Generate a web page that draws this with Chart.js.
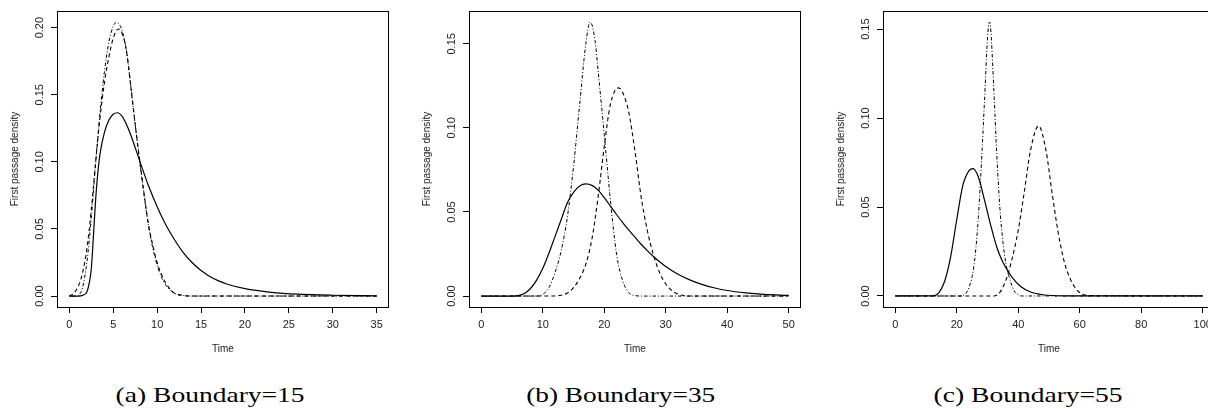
<!DOCTYPE html>
<html><head><meta charset="utf-8">
<script src="https://cdn.jsdelivr.net/npm/chart.js@4.4.0/dist/chart.umd.min.js"></script>
<style>
html,body{margin:0;padding:0;background:#fff;overflow:hidden;width:1208px;height:409px;position:relative;}
canvas.panel{position:absolute;top:0;}
.cap{position:absolute;top:384px;width:300px;text-align:center;font-family:"Liberation Serif",serif;font-size:21px;line-height:22px;color:#000;white-space:nowrap;}
.cap span{display:inline-block;transform-origin:center;}
</style></head><body>
<canvas id="c1" class="panel" width="395" height="370" style="left:0px"></canvas>
<canvas id="c2" class="panel" width="395" height="370" style="left:412px"></canvas>
<canvas id="c3" class="panel" width="395" height="370" style="left:826px"></canvas>
<div class="cap" style="left:60px"><span>(a) Boundary=15</span></div>
<div class="cap" style="left:471px"><span>(b) Boundary=35</span></div>
<div class="cap" style="left:878px"><span>(c) Boundary=55</span></div>
<script>
// ---------- Panel (a): Boundary = 15 ----------
const p1XTicks = [0, 5, 10, 15, 20, 25, 30, 35];
const p1YTicks = [0, 0.05, 0.10, 0.15, 0.20];
const p1SolidT = [0, 1, 1.5, 2, 2.25, 2.5, 2.75, 3, 3.25, 3.5, 4, 4.5, 5, 5.5, 6, 6.5, 7, 8, 9, 10, 11, 12, 13, 14, 15, 16, 17, 18, 20, 23, 26, 30, 35];
const p1SolidV = [0, 0, 0.0005, 0.003, 0.009, 0.02, 0.045, 0.072, 0.092, 0.106, 0.122, 0.131, 0.1355, 0.1366, 0.134, 0.128, 0.12, 0.101, 0.0825, 0.0665, 0.053, 0.0418, 0.0322, 0.0248, 0.019, 0.0146, 0.0113, 0.0088, 0.0055, 0.0028, 0.0014, 0.0006, 0.0002];
const p1DashT = [0, 0.5, 1, 1.5, 2, 2.5, 3, 3.5, 4, 4.5, 5, 5.6, 6, 6.5, 7, 7.5, 8, 8.5, 9, 9.5, 10, 10.5, 11, 11.5, 12, 13, 14, 35];
const p1DashV = [0, 0.002, 0.007, 0.017, 0.035, 0.064, 0.1, 0.133, 0.159, 0.178, 0.192, 0.199, 0.196, 0.183, 0.156, 0.128, 0.102, 0.077, 0.054, 0.038, 0.025, 0.016, 0.0095, 0.005, 0.002, 0.0004, 0, 0];
const p1DotDashT = [0, 1, 1.25, 1.5, 2, 2.5, 3, 3.5, 4, 4.5, 5, 5.4, 6, 6.5, 7, 7.5, 8, 8.5, 9, 9.5, 10, 10.5, 11, 12, 13, 14, 35];
const p1DotDashV = [0, 0, 0.002, 0.006, 0.025, 0.058, 0.099, 0.137, 0.167, 0.189, 0.201, 0.204, 0.198, 0.183, 0.157, 0.128, 0.101, 0.076, 0.053, 0.036, 0.023, 0.014, 0.008, 0.002, 0.0004, 0, 0];

// ---------- Panel (b): Boundary = 35 ----------
const p2XTicks = [0, 10, 20, 30, 40, 50];
const p2YTicks = [0, 0.05, 0.10, 0.15];
const p2SolidT = [0, 5, 6, 7, 8, 9, 10, 11, 12, 13, 14, 15, 16, 17, 18, 19, 20, 21, 22, 23, 24, 25, 26, 27, 28, 29, 30, 32, 34, 36, 38, 40, 43, 46, 50];
const p2SolidV = [0, 0, 0.0003, 0.0015, 0.0045, 0.0095, 0.0165, 0.0255, 0.0355, 0.0455, 0.0555, 0.0617, 0.0655, 0.0667, 0.0658, 0.063, 0.0585, 0.0535, 0.0485, 0.0437, 0.0392, 0.035, 0.0308, 0.027, 0.0235, 0.0204, 0.0176, 0.013, 0.0095, 0.0068, 0.0048, 0.0033, 0.0019, 0.001, 0.0004];
const p2DashT = [0, 12, 13, 14, 15, 16, 17, 18, 19, 20, 21, 22.3, 23, 24, 25, 26, 27, 28, 29, 30, 31, 32, 33, 34, 50];
const p2DashV = [0, 0, 0.0005, 0.0018, 0.005, 0.0105, 0.019, 0.034, 0.059, 0.089, 0.114, 0.1238, 0.121, 0.109, 0.086, 0.059, 0.039, 0.0245, 0.014, 0.0072, 0.0033, 0.0012, 0.0003, 0, 0];
const p2DotDashT = [0, 9, 10, 11, 12, 13, 14, 15, 16, 17, 17.7, 18.5, 19, 20, 21, 22, 23, 24, 25, 26, 50];
const p2DotDashV = [0, 0, 0.001, 0.005, 0.014, 0.027, 0.047, 0.077, 0.114, 0.150, 0.163, 0.152, 0.134, 0.096, 0.057, 0.025, 0.009, 0.002, 0.0003, 0, 0];

// ---------- Panel (c): Boundary = 55 ----------
const p3XTicks = [0, 20, 40, 60, 80, 100];
const p3YTicks = [0, 0.05, 0.10, 0.15];
const p3SolidT = [0, 12, 14, 16, 18, 20, 22, 24, 25.3, 27, 29, 31, 33, 35, 38, 41, 44, 48, 55, 100];
const p3SolidV = [0, 0, 0.0015, 0.008, 0.022, 0.043, 0.0624, 0.0705, 0.0716, 0.067, 0.054, 0.040, 0.0275, 0.019, 0.0105, 0.005, 0.0022, 0.0007, 0.0001, 0];
const p3DashT = [0, 32, 34, 36, 38, 40, 42, 44, 46.6, 49, 51, 53, 55, 57, 59, 61, 63, 100];
const p3DashV = [0, 0, 0.002, 0.009, 0.021, 0.037, 0.059, 0.082, 0.0956, 0.082, 0.058, 0.0355, 0.019, 0.0093, 0.0035, 0.001, 0.0002, 0];
const p3DotDashT = [0, 21, 22, 23, 24, 25, 26, 27, 28, 29, 30, 30.6, 31, 32, 33, 34, 35, 36, 37, 38, 39, 40, 41, 100];
const p3DotDashV = [0, 0, 0.0003, 0.0015, 0.005, 0.011, 0.023, 0.044, 0.074, 0.109, 0.145, 0.154, 0.151, 0.118, 0.080, 0.050, 0.0305, 0.018, 0.011, 0.0055, 0.002, 0.0007, 0, 0];

const xTitle = 'Time';
const yTitle = 'First passage density';

const boxPlugin = {
  id: 'box',
  afterDraw(chart) {
    const {ctx, chartArea: a} = chart;
    ctx.save();
    ctx.strokeStyle = '#000';
    ctx.lineWidth = 1;
    ctx.strokeRect(Math.round(a.left) + 0.5, Math.round(a.top) + 0.5, Math.round(a.right - a.left) - 1, Math.round(a.bottom - a.top));
    ctx.restore();
  }
};

const SOLID = [], DASH = [4, 3], DOTDASH = [1, 2, 3.5, 2];

function ds(t, v, dash, w) {
  return {
    data: t.map((x, i) => ({x: x, y: v[i]})),
    borderColor: '#000', borderWidth: w, borderDash: dash,
    pointRadius: 0, fill: false, cubicInterpolationMode: 'monotone'
  };
}

function makeChart(id, xr, yr, xTicks, yTicks, datasets) {
  const tickFont = {family: 'Liberation Sans, Arial, sans-serif', size: 11};
  const titleFont = {family: 'Liberation Sans, Arial, sans-serif', size: 10};
  new Chart(document.getElementById(id), {
    type: 'line',
    data: {datasets: datasets},
    options: {
      responsive: false, animation: false, devicePixelRatio: 1,
      layout: {padding: {left: 0, right: 6, top: 11, bottom: 0}},
      plugins: {legend: {display: false}, tooltip: {enabled: false}},
      scales: {
        x: {
          type: 'linear', min: xr[0], max: xr[1],
          afterBuildTicks: s => { s.ticks = xTicks.map(v => ({value: v})); },
          afterFit: s => { s.height = 63; },
          border: {display: false},
          grid: {drawOnChartArea: false, drawTicks: true, tickLength: 6, color: '#000', lineWidth: 1},
          ticks: {color: '#222', font: tickFont, padding: 5, maxRotation: 0, minRotation: 0, autoSkip: false,
                  callback: v => String(v)},
          title: {display: true, text: xTitle, color: '#222', font: titleFont, padding: {top: 0, bottom: 15}}
        },
        y: {
          type: 'linear', min: yr[0], max: yr[1],
          afterBuildTicks: s => { s.ticks = yTicks.map(v => ({value: v})); },
          afterFit: s => { s.width = 57; },
          border: {display: false},
          grid: {drawOnChartArea: false, drawTicks: true, tickLength: 6, color: '#000', lineWidth: 1},
          ticks: {color: '#222', font: tickFont, padding: 0, minRotation: 90, maxRotation: 90, crossAlign: 'center', autoSkip: false,
                  callback: v => v.toFixed(2)},
          title: {display: true, text: yTitle, color: '#222', font: titleFont, padding: {top: 9, bottom: 0}}
        }
      }
    },
    plugins: [boxPlugin]
  });
}

makeChart('c1', [-1.4, 36.4], [-0.00816, 0.2124], p1XTicks, p1YTicks, [
  ds(p1SolidT, p1SolidV, SOLID, 1.2), ds(p1DashT, p1DashV, DASH, 1.1), ds(p1DotDashT, p1DotDashV, DOTDASH, 1)]);
makeChart('c2', [-2, 52], [-0.0065, 0.1695], p2XTicks, p2YTicks, [
  ds(p2SolidT, p2SolidV, SOLID, 1.2), ds(p2DashT, p2DashV, DASH, 1.1), ds(p2DotDashT, p2DotDashV, DOTDASH, 1)]);
makeChart('c3', [-4, 104], [-0.0062, 0.1602], p3XTicks, p3YTicks, [
  ds(p3SolidT, p3SolidV, SOLID, 1.2), ds(p3DashT, p3DashV, DASH, 1.1), ds(p3DotDashT, p3DotDashV, DOTDASH, 1)]);

// stretch captions to the caption width seen in the figure
document.querySelectorAll('.cap span').forEach(sp => {
  const w = sp.getBoundingClientRect().width;
  sp.style.transform = 'scaleX(' + (189 / w) + ')';
});
</script>
</body></html>
